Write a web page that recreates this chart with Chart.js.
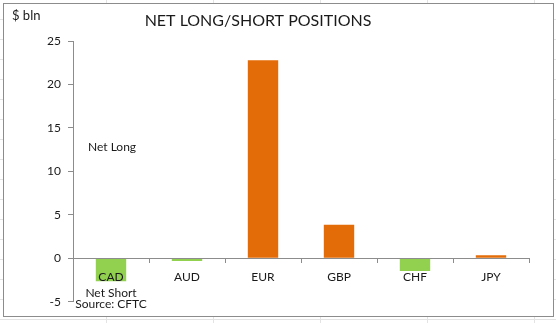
<!DOCTYPE html>
<html>
<head>
    <style>
        body {
            margin: 0;
            padding: 0;
            width: 556px;
            height: 323px;
            overflow: hidden;
            background-color: #fff;
            background-image:
                repeating-linear-gradient(to bottom, transparent 0, transparent 19px, #e3e3e3 19px, #e3e3e3 20px),
                repeating-linear-gradient(to right, transparent 0, transparent 106px, #e3e3e3 106px, #e3e3e3 107px);
        }

        .box {
            position: absolute;
            left: 3px;
            top: 3px;
            width: 549px;
            height: 312px;
            border: 1px solid #8c8c8c;
            background: #fff;
        }

        #chart {
            display: block;
        }
    </style>
    <title>Net Long/Short Positions</title>
    <script src="https://cdn.jsdelivr.net/npm/chart.js@4.4.0/dist/chart.umd.min.js"></script>
</head>
<body>
    <div class="box">
        <canvas id="chart" width="549" height="312"></canvas>
    </div>

  <script>
    const currencies = ['CAD', 'AUD', 'EUR', 'GBP', 'CHF', 'JPY'];
    const netPositions = [-2.65, -0.3, 22.8, 3.85, -1.45, 0.35];
    const yTicks = [-5, 0, 5, 10, 15, 20, 25];

    const orange = '#e36c09';
    const green = '#92d050';
    const barColors = netPositions.map(v => v < 0 ? green : orange);

    const font = 'Lato, "Open Sans", sans-serif';

    // titles and notes drawn on the canvas
    const textPlugin = {
      id: 'notes',
      afterDraw(chart) {
        const ctx = chart.ctx;
        const x = chart.scales.x;
        ctx.save();
        ctx.fillStyle = '#1a1a1a';
        ctx.textBaseline = 'middle';

        ctx.font = '16px ' + font;
        ctx.textAlign = 'center';
        ctx.fillText('NET LONG/SHORT POSITIONS', 254, 17);

        ctx.font = '13px ' + font;
        ctx.textAlign = 'left';
        ctx.fillText('$ bln', 8, 12);

        ctx.font = '12px ' + font;
        ctx.fillText('Net Long', 84, 143);

        ctx.textAlign = 'center';
        const cx = x.getPixelForValue(0);
        ctx.fillText('Net Short', cx, 289);
        ctx.fillText('Source: CFTC', cx, 300);
        ctx.restore();
      }
    };

    const ctx = document.getElementById('chart').getContext('2d');
    new Chart(ctx, {
      type: 'bar',
      data: {
        labels: currencies,
        datasets: [{
          data: netPositions,
          backgroundColor: barColors,
          categoryPercentage: 1,
          barPercentage: 0.4
        }]
      },
      options: {
        responsive: false,
        animation: false,
        layout: {
          padding: { left: 0, top: 37, right: 24, bottom: 12 }
        },
        plugins: {
          legend: { display: false },
          tooltip: { enabled: false }
        },
        scales: {
          x: {
            position: { y: 0 },
            border: { color: '#8c8c8c', z: 1 },
            grid: {
              drawOnChartArea: false,
              tickLength: 4,
              color: '#8c8c8c',
              z: 1
            },
            ticks: {
              padding: 8,
              color: '#1a1a1a',
              font: { family: font, size: 12 },
              z: 1
            }
          },
          y: {
            min: -5,
            max: 25,
            afterFit(scale) { scale.width = 69; },
            afterBuildTicks(scale) { scale.ticks = yTicks.map(v => ({ value: v })); },
            border: { color: '#8c8c8c' },
            grid: {
              drawOnChartArea: false,
              tickLength: 5,
              color: '#8c8c8c'
            },
            ticks: {
              padding: 7,
              color: '#1a1a1a',
              font: { family: font, size: 12 }
            }
          }
        }
      },
      plugins: [textPlugin]
    });
  </script>
</body>
</html>
